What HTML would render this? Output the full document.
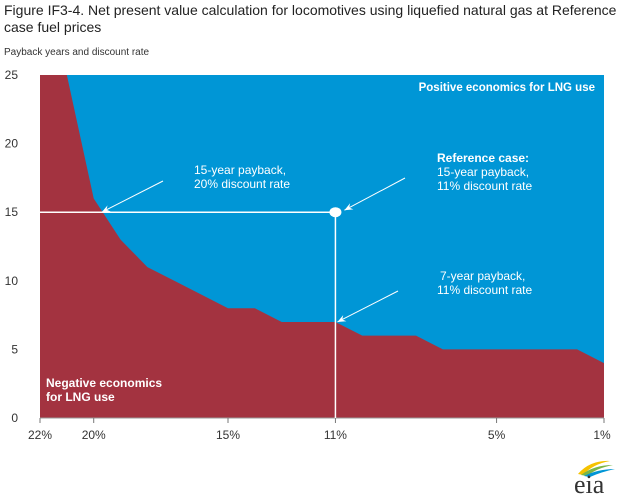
<!DOCTYPE html>
<html><head><meta charset="utf-8"><style>
body{margin:0;background:#fff;font-family:"Liberation Sans",Arial,sans-serif;}
svg{display:block}
</style></head><body>
<svg width="618" height="499" xmlns="http://www.w3.org/2000/svg" font-family="Liberation Sans, Arial, sans-serif">
<text x="4" y="15" font-size="14" fill="#222">Figure IF3-4. Net present value calculation for locomotives using liquefied natural gas at Reference</text>
<text x="4" y="32" font-size="14" fill="#222">case fuel prices</text>
<text x="4" y="55" font-size="10" fill="#333">Payback years and discount rate</text>
<g id="plot"></g>
<g id="eia">
<path d="M578 474 Q590 460 610 461 Q593 464 583 475Z" fill="#f5c200"/>
<path d="M581 475 Q594 465 613 465 Q597 468 587 476Z" fill="#7ab648"/>
<path d="M584 476 Q598 469 615 469 Q601 472 590 477Z" fill="#0096d6"/>
<text x="574" y="493" font-size="26" font-family="Liberation Serif, serif" fill="#333">eia</text>
</g>
</svg>
<script>
const rates=[22,21,20,19,18,17,16,15,14,13,12,11,10,9,8,7,6,5,4,3,2,1];
const paybackYears=[25,25,16,13,11,10,9,8,8,7,7,7,6,6,6,5,5,5,5,5,5,4];
const yTicks=[0,5,10,15,20,25];
const xTickLabels=[22,20,15,11,5,1];
const refRate=11, refYears=15, altRate=20, altYears=15, sevenYears=7;
const L=40,R=604,T=75,B=418;
const x=r=>L+(22-r)*(R-L)/21;
const y=v=>B-v*(B-T)/25;
const NS="http://www.w3.org/2000/svg";
const g=document.getElementById('plot');
function mk(tag,attrs){const e=document.createElementNS(NS,tag);for(const k in attrs)e.setAttribute(k,attrs[k]);g.appendChild(e);return e;}
let e=mk('rect',{x:L,y:T,width:R-L,height:B-T,fill:'#0096d6'});


let d='M'+x(22)+','+y(0);
rates.forEach((r,i)=>{d+=' L'+x(r)+','+y(paybackYears[i]);});
d+=' L'+x(1)+','+y(0)+'Z';
e=mk('path',{d:d,fill:'#a33340'});


e=mk('line',{x1:L,y1:B,x2:R,y2:B,stroke:'#999','stroke-width':1});


yTicks.forEach(v=>{const t=mk('text',{x:18,y:y(v)+4,'font-size':12,'text-anchor':'end',fill:'#333'});t.textContent=v;

});
xTickLabels.forEach(r=>{const l=mk('line',{x1:x(r),y1:B,x2:x(r),y2:B+5,stroke:'#777'});


const t=mk('text',{x:x(r)+(r==1?-2:0),y:B+21,'font-size':12,'text-anchor':'middle',fill:'#333'});t.textContent=r+'%';

});
e=mk('line',{x1:L,y1:y(refYears),x2:x(refRate),y2:y(refYears),stroke:'#fff','stroke-width':1.5});


e=mk('line',{x1:x(refRate),y1:y(refYears),x2:x(refRate),y2:B,stroke:'#fff','stroke-width':1.5});


e=mk('ellipse',{cx:x(refRate),cy:y(refYears),rx:6,ry:5,fill:'#fff'});


function arrow(x1,y1,x2,y2,name){const a=mk('line',{x1:x1,y1:y1,x2:x2,y2:y2,stroke:'#fff','stroke-width':1});


const ang=Math.atan2(y2-y1,x2-x1),s=9,w=0.4;
const p=[[x2,y2],[x2-s*Math.cos(ang-w),y2-s*Math.sin(ang-w)],[x2-s*0.6*Math.cos(ang),y2-s*0.6*Math.sin(ang)],[x2-s*Math.cos(ang+w),y2-s*Math.sin(ang+w)]];
const h=mk('polygon',{points:p.map(q=>q.join(',')).join(' '),fill:'#fff'});

}
arrow(163,181,x(altRate)+8,y(altYears),'arrow-20-percent');
arrow(405,178,x(refRate)+9,y(refYears)-2,'arrow-reference-case');
arrow(398,291,x(refRate)+2,y(sevenYears),'arrow-7-year');
function txt(s,xx,yy,opt,name){const t=mk('text',Object.assign({x:xx,y:yy,'font-size':12,fill:'#fff'},opt||{}));t.textContent=s;

}
txt('15-year payback,',194,174,{},'annotation-20-percent-line1');
txt('20% discount rate',194,188,{},'annotation-20-percent-line2');
txt('Reference case:',437,162,{'font-weight':'bold'},'annotation-reference-line1');
txt('15-year payback,',437,176,{},'annotation-reference-line2');
txt('11% discount rate',437,190,{},'annotation-reference-line3');
txt('7-year payback,',440,280,{},'annotation-7-year-line1');
txt('11% discount rate',437,294,{},'annotation-7-year-line2');
txt('Positive economics for LNG use',595,91,{'font-weight':'bold','text-anchor':'end','font-size':11.5},'positive-label');
txt('Negative economics',46,387,{'font-weight':'bold'},'negative-label-line1');
txt('for LNG use',46,401,{'font-weight':'bold'},'negative-label-line2');
</script>
</body></html>
